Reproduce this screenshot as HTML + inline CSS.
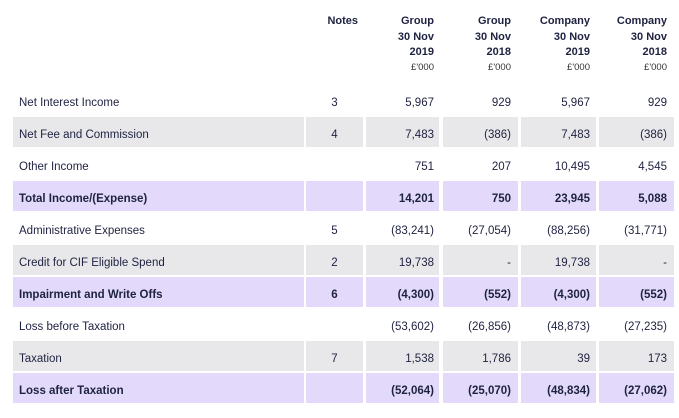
<!DOCTYPE html>
<html><head><style>
body{margin:0;width:679px;height:418px;background:#fff;font-family:"Liberation Sans",sans-serif;color:#1e2240;position:relative;overflow:hidden}
.h{position:absolute;font-weight:bold;font-size:11px;text-align:right;line-height:15.5px}
.u{position:absolute;font-size:9.5px;text-align:right;color:#333}
.c{position:absolute;height:30px;line-height:30px;padding-top:3px;font-size:11.5px;box-sizing:border-box}
.g{background:#e8e8ea}.p{background:#e3dafb;font-weight:bold}
</style></head><body>
<div class="h" style="left:300px;width:58px;top:14px">Notes</div>
<div class="h" style="left:370px;width:64px;top:14px">Group<br>30 Nov<br>2019</div>
<div class="h" style="left:447px;width:64px;top:14px">Group<br>30 Nov<br>2018</div>
<div class="h" style="left:520px;width:70px;top:14px">Company<br>30 Nov<br>2019</div>
<div class="h" style="left:597px;width:70px;top:14px">Company<br>30 Nov<br>2018</div>
<div class="u" style="left:370px;width:64px;top:62px">£'000</div>
<div class="u" style="left:447px;width:64px;top:62px">£'000</div>
<div class="u" style="left:520px;width:70px;top:62px">£'000</div>
<div class="u" style="left:597px;width:70px;top:62px">£'000</div>
<div id="t"></div>
<script>
var rows=[
["Net Interest Income","3","5,967","929","5,967","929",""],
["Net Fee and Commission","4","7,483","(386)","7,483","(386)","g"],
["Other Income","","751","207","10,495","4,545",""],
["Total Income/(Expense)","","14,201","750","23,945","5,088","p"],
["Administrative Expenses","5","(83,241)","(27,054)","(88,256)","(31,771)",""],
["Credit for CIF Eligible Spend","2","19,738","-","19,738","-","g"],
["Impairment and Write Offs","6","(4,300)","(552)","(4,300)","(552)","p"],
["Loss before Taxation","","(53,602)","(26,856)","(48,873)","(27,235)",""],
["Taxation","7","1,538","1,786","39","173","g"],
["Loss after Taxation","","(52,064)","(25,070)","(48,834)","(27,062)","p"]];
var cols=[[13,291,"left",6],[306,57,"center",0],[366,73,"right",5],[443,75,"right",7],[521,75,"right",6],[599,75,"right",7]];
var h="";
rows.forEach(function(r,i){var top=85+i*32;cols.forEach(function(c,j){
h+='<div class="c '+r[6]+'" style="left:'+c[0]+'px;width:'+c[1]+'px;top:'+top+'px;text-align:'+c[2]+';padding-'+(c[2]=="left"?"left":"right")+':'+c[3]+'px">'+r[j]+'</div>';});});
document.getElementById("t").innerHTML=h;
</script>
</body></html>
